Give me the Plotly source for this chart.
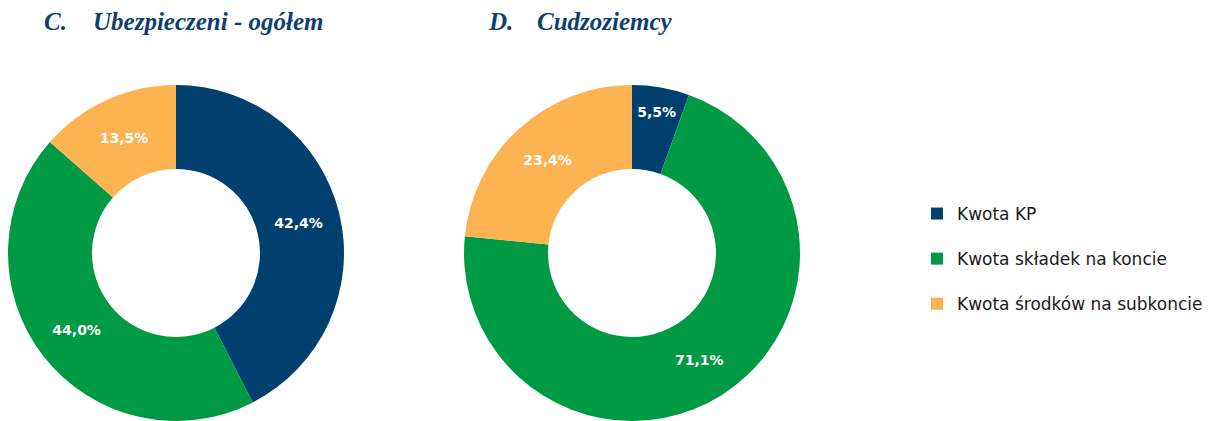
import plotly.graph_objects as go

categories = ["Kwota KP", "Kwota składek na koncie", "Kwota środków na subkoncie"]
values_c = [42.4, 44.0, 13.5]
values_d = [5.5, 71.1, 23.4]
titles = [("C.", "Ubezpieczeni - ogółem"), ("D.", "Cudzoziemcy")]
colors = ["#003F6E", "#009A44", "#FDB352"]

W, H = 1217, 421


def fmt(v):
    return f"{v:.1f}".replace(".", ",") + "%"


fig = go.Figure()

pie_domains = [
    dict(x=[7 / W, 345 / W], y=[0, 336 / H]),
    dict(x=[463 / W, 801 / W], y=[0, 336 / H]),
]

for vals, dom in zip([values_c, values_d], pie_domains):
    fig.add_trace(go.Pie(
        labels=categories,
        values=vals,
        text=[fmt(v) for v in vals],
        textinfo="text",
        textposition="inside",
        insidetextorientation="horizontal",
        hole=0.5,
        sort=False,
        direction="clockwise",
        rotation=0,
        marker=dict(colors=colors, line=dict(width=0)),
        textfont=dict(family="DejaVu Sans", size=14, color="white", weight="bold"),
        domain=dom,
        showlegend=False,
        hoverinfo="label+percent",
    ))

for i, (cat, col) in enumerate(zip(categories, colors)):
    fig.add_trace(go.Scatter(
        x=[None], y=[None], mode="markers",
        marker=dict(symbol="square", size=12, color=col),
        name=cat, legendgroup=f"g{i}", showlegend=True,
    ))

annotations = []
for (letter, txt), xl, xt in zip(titles, [42, 486], [91, 535]):
    for s, xx in [(letter, xl), (txt, xt)]:
        annotations.append(dict(
            text=s, x=xx / W, y=1 - 22 / H, xref="paper", yref="paper",
            xanchor="left", yanchor="middle", showarrow=False,
            font=dict(family="Liberation Serif", size=25, color="#0E3F6F",
                      weight="bold", style="italic"),
        ))

fig.update_layout(
    width=W, height=H,
    margin=dict(l=0, r=0, t=0, b=0),
    paper_bgcolor="white", plot_bgcolor="white",
    xaxis=dict(visible=False), yaxis=dict(visible=False),
    annotations=annotations,
    legend=dict(
        x=917 / W, y=1 - 196 / H, xanchor="left", yanchor="top",
        font=dict(family="DejaVu Sans", size=17, color="#1A1A1A"),
        tracegroupgap=20, bgcolor="rgba(0,0,0,0)",
    ),
)

fig.write_html("out.html", config={"displayModeBar": False},
               post_script="document.body.style.margin='0';")
